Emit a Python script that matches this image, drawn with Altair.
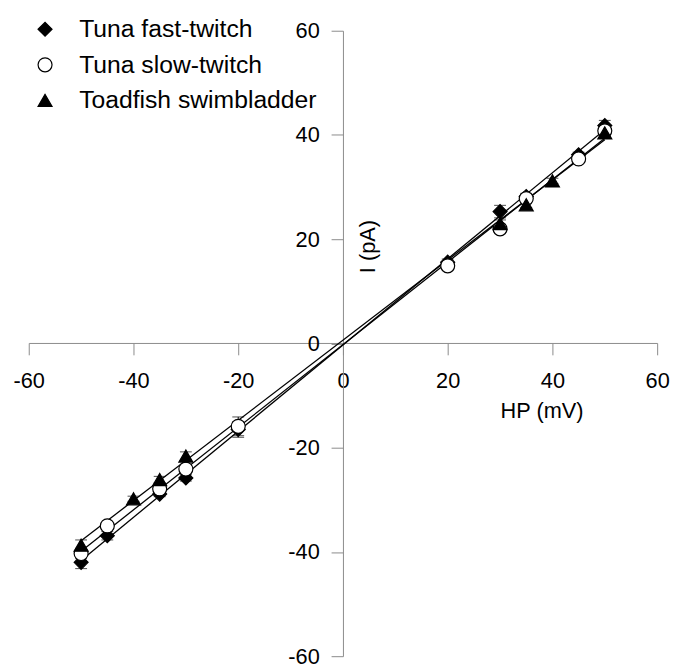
import altair as alt
import pandas as pd

series_names = ["Tuna fast-twitch", "Tuna slow-twitch", "Toadfish swimbladder"]

hp_fast = [-50, -45, -35, -30, -20, 20, 30, 35, 45, 50]
i_fast = [-42.0, -36.9, -28.9, -25.8, -16.5, 15.6, 25.3, 28.2, 36.2, 41.8]
err_fast = [1.2, 0.8, 0.5, 0.6, 1.5, 0.6, 1.2, 0.6, 0.5, 1.0]

hp_slow = [-50, -45, -35, -30, -20, 20, 30, 35, 45, 50]
i_slow = [-40.3, -35.0, -27.9, -24.1, -15.9, 14.9, 22.0, 27.8, 35.4, 40.8]
err_slow = [1.0, 0.6, 0.5, 0.6, 1.8, 0.8, 0.8, 0.5, 0.6, 0.8]

hp_toad = [-50, -40, -35, -30, 30, 35, 40, 50]
i_toad = [-38.7, -29.8, -26.1, -21.6, 23.0, 26.6, 31.2, 40.4]
err_toad = [1.0, 0.5, 0.6, 0.8, 0.7, 0.5, 0.5, 0.8]

x_ticks = [-60, -40, -20, 0, 20, 40, 60]
y_ticks = [-60, -40, -20, 0, 20, 40, 60]

rows = []
for name, xs, ys, es in [
    (series_names[0], hp_fast, i_fast, err_fast),
    (series_names[1], hp_slow, i_slow, err_slow),
    (series_names[2], hp_toad, i_toad, err_toad),
]:
    for x, y, e in zip(xs, ys, es):
        rows.append({"series": name, "hp": x, "i": y, "lo": y - e, "hi": y + e})
df = pd.DataFrame(rows)

FONT = "Liberation Sans"

xscale = alt.Scale(domain=[-60, 60], nice=False, zero=False)
yscale = alt.Scale(domain=[-60, 60], nice=False, zero=False)

xaxis = alt.Axis(
    values=x_ticks, offset=-317, title="HP (mV)", grid=False, labelFlush=False,
    domainColor="#8a8a8a", tickColor="#8a8a8a", tickSize=12,
    labelExpr="toString(datum.value)",
    labelFontSize=22, labelFont=FONT, labelColor="black", labelPadding=16,
    titleFontSize=22, titleFont=FONT, titleFontWeight="normal", titleColor="black",
    titleX=519, titleY=68, titleBaseline="middle", titleAlign="center",
)
yaxis = alt.Axis(
    values=y_ticks, offset=-318, title="I (pA)", grid=False, labelFlush=False,
    domainColor="#8a8a8a", tickColor="#8a8a8a", tickSize=12,
    labelExpr="toString(datum.value)",
    labelFontSize=22, labelFont=FONT, labelColor="black", labelPadding=12,
    titleFontSize=22, titleFont=FONT, titleFontWeight="normal", titleColor="black",
    titleX=37, titleY=218, titleAlign="center",
)

X = alt.X("hp:Q", scale=xscale, axis=xaxis, title="HP (mV)")

base = alt.Chart(df)

lines = base.transform_regression(
    "hp", "i", groupby=["series"], extent=[-50, 50]
).mark_line(color="black", strokeWidth=1.3).encode(
    x=X,
    y=alt.Y("i:Q", scale=yscale, axis=yaxis, title="I (pA)"),
    detail="series:N",
)

err_rule = base.mark_rule(color="black", strokeWidth=1).encode(
    x=X,
    y=alt.Y("lo:Q", scale=yscale, axis=yaxis, title="I (pA)"),
    y2="hi:Q",
)
cap_lo = base.mark_tick(color="black", size=12, thickness=1, orient="horizontal").encode(
    x=X, y=alt.Y("lo:Q", scale=yscale, axis=yaxis, title="I (pA)"),
)
cap_hi = base.mark_tick(color="black", size=12, thickness=1, orient="horizontal").encode(
    x=X, y=alt.Y("hi:Q", scale=yscale, axis=yaxis, title="I (pA)"),
)

leg = alt.Legend(title=None, orient="none", legendX=4, legendY=-14,
                 labelFontSize=25, labelFont=FONT, labelColor="black", labelLimit=0,
                 symbolSize=200, symbolStrokeWidth=1.2, symbolStrokeColor="black",
                 labelOffset=22, rowPadding=10, padding=0)

points = base.mark_point(filled=False, opacity=1, strokeWidth=1.2, size=200).encode(
    x=X,
    y=alt.Y("i:Q", scale=yscale, axis=yaxis, title="I (pA)"),
    shape=alt.Shape("series:N", sort=series_names,
                    scale=alt.Scale(domain=series_names, range=["diamond", "circle", "triangle-up"]),
                    legend=leg),
    fill=alt.Fill("series:N", sort=series_names,
                  scale=alt.Scale(domain=series_names, range=["black", "white", "black"]),
                  legend=leg),
    stroke=alt.Stroke("series:N", sort=series_names,
                      scale=alt.Scale(domain=series_names, range=["black", "black", "black"]),
                      legend=leg),
)

chart = alt.layer(lines, err_rule, cap_lo, cap_hi, points).properties(
    width=636, height=633,
    padding={"left": 21, "top": 19, "right": 13, "bottom": 12},
    autosize=alt.AutoSizeParams(type="none"),
    view=alt.ViewBackground(stroke="transparent", strokeWidth=0),
).configure(font=FONT).configure_view(strokeWidth=0, stroke="transparent").configure_axis(grid=False)

chart.save("out.html", embed_options={"renderer": "svg", "actions": False})
